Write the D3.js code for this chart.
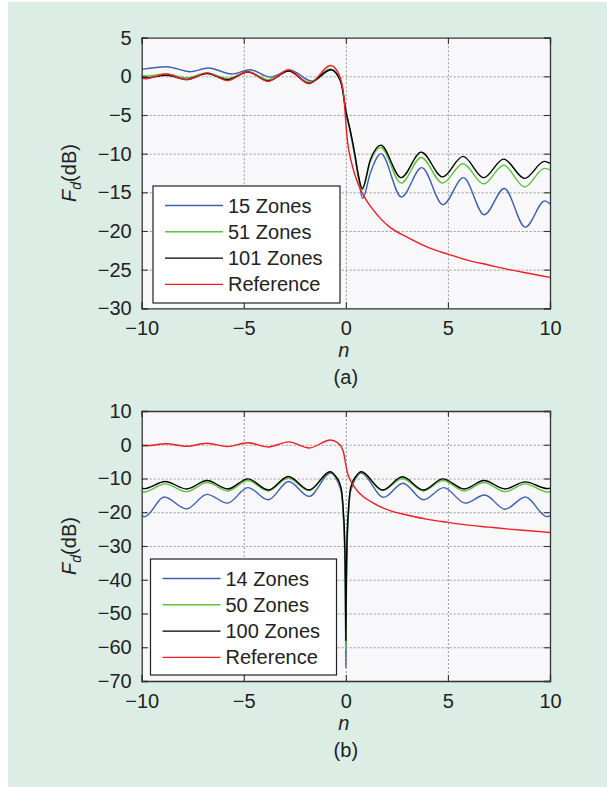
<!DOCTYPE html>
<html>
<head>
<meta charset="utf-8">
<script src="https://cdn.jsdelivr.net/npm/d3@7"></script>
<style>
  body { margin: 0; background: #fff; }
  svg { display: block; font-family: "Liberation Sans", Arial, sans-serif; }
</style>
</head>
<body>
<div id="chart"></div>
<script>
// Reference curve (knife edge), same in both panels
const refN = [-10, -9.8, -8.8, -7.8, -6.8, -5.8, -4.8, -3.8, -2.8, -1.8, -0.75, -0.4, -0.2, -0.1, 0, 0.05, 0.1, 0.2, 0.3, 0.45, 0.6, 0.8, 1, 1.35, 1.7, 2.2, 3, 4, 5, 6, 7, 8, 9, 10];
const refDb = [-0.25, -0.3, 0.3, -0.45, 0.45, -0.55, 0.6, -0.65, 0.85, -0.95, 1.4, 0.6, -0.9, -2.6, -6.0, -7.6, -8.8, -10.3, -11.4, -12.8, -13.9, -15.1, -16.0, -17.3, -18.4, -19.6, -20.8, -22.1, -23.0, -23.8, -24.4, -25.0, -25.5, -26.0];

// Panel (a)
const nA = [-10, -9.8, -8.8, -7.8, -6.8, -5.8, -4.8, -3.8, -2.8, -1.8, -0.75, -0.4, -0.2, 0, 0.2, 0.45, 0.6, 0.8, 1.2, 1.71, 2.71, 3.69, 4.74, 5.74, 6.75, 7.73, 8.76, 9.73, 10];
const zones101A = [-0.15, -0.2, 0.13, -0.39, 0.35, -0.43, 0.56, -0.6, 0.69, -0.9, 0.85, 0.1, -1.2, -4.5, -6.8, -10.2, -12.6, -14.5, -10.8, -8.9, -13.1, -9.8, -13.0, -10.35, -13.1, -10.7, -13.2, -11.0, -11.25];
const zones51A = [0.09, 0.05, 0.3, -0.17, 0.43, -0.26, 0.6, -0.43, 0.73, -0.78, 0.95, 0.15, -1.1, -4.4, -6.8, -10.3, -12.7, -14.7, -11.0, -9.2, -13.8, -10.5, -13.8, -11.3, -13.9, -11.5, -14.3, -11.9, -12.1];
const nA15 = [-10, -8.78, -7.63, -6.73, -5.59, -4.69, -3.71, -2.73, -1.67, -0.69, -0.4, -0.2, 0, 0.2, 0.45, 0.6, 0.82, 1.2, 1.72, 2.72, 3.72, 4.76, 5.76, 6.78, 7.76, 8.79, 9.75, 10];
const zones15A = [0.9, 1.25, 0.6, 1.08, 0.3, 0.86, -0.1, 0.8, -0.6, 0.86, 0.2, -1.0, -4.4, -7.0, -10.5, -12.8, -15.8, -12.5, -10.0, -15.6, -11.8, -16.6, -13.1, -17.9, -14.5, -19.5, -16.1, -16.5];

// Panel (b)
const nB = [-10, -9.88, -8.85, -7.8, -6.8, -5.78, -4.8, -3.8, -2.82, -1.8, -0.77, -0.5, -0.3, -0.2, -0.12, -0.06, -0.02, 0, 0.02, 0.06, 0.12, 0.2, 0.3, 0.5, 0.75, 1.8, 2.77, 3.8, 4.75, 5.8, 6.77, 7.8, 8.78, 9.88, 10];
const zones100B = [-12.9, -13.0, -10.9, -13.1, -10.6, -13.1, -10.1, -13.4, -9.4, -13.4, -8.0, -9.3, -11.5, -14.0, -20.0, -28.0, -42.0, -58.0, -42.0, -28.0, -20.0, -14.0, -11.5, -9.3, -8.0, -13.4, -9.5, -13.4, -10.1, -13.1, -10.6, -13.1, -11.0, -13.0, -12.9];
const zones50B = [-13.9, -14.0, -11.6, -13.9, -11.2, -13.7, -10.6, -13.7, -9.9, -13.6, -8.2, -9.5, -11.8, -14.4, -20.5, -29.0, -44.0, -61.0, -44.0, -29.0, -20.5, -14.4, -11.8, -9.5, -8.2, -13.6, -10.0, -13.7, -10.6, -13.7, -11.2, -13.9, -11.6, -14.0, -13.9];
const nB14 = [-10, -9.85, -8.9, -7.8, -6.8, -5.8, -4.8, -3.8, -2.8, -1.8, -0.75, -0.5, -0.3, -0.2, -0.12, -0.06, -0.02, 0, 0.02, 0.06, 0.12, 0.2, 0.3, 0.5, 0.75, 1.85, 2.8, 3.8, 4.8, 5.85, 6.8, 7.8, 8.8, 9.85, 10];
const zones14B = [-21.1, -21.3, -15.5, -19.0, -14.7, -17.3, -12.7, -16.3, -10.9, -15.3, -8.4, -9.8, -12.5, -15.0, -21.5, -31.0, -48.0, -66.0, -48.0, -31.0, -21.5, -15.0, -12.5, -9.8, -8.4, -15.6, -11.4, -16.3, -12.7, -17.3, -14.9, -19.1, -15.5, -21.3, -21.0];

const xTicks = [-10, -5, 0, 5, 10];
const yTicksA = [5, 0, -5, -10, -15, -20, -25, -30];
const yTicksB = [10, 0, -10, -20, -30, -40, -50, -60, -70];
const labelsA = ['15 Zones', '51 Zones', '101 Zones', 'Reference'];
const labelsB = ['14 Zones', '50 Zones', '100 Zones', 'Reference'];

const colours = { blue: '#3c5fb4', green: '#5fc23c', black: '#000', red: '#ee1d25' };

const w = 607;
const h = 787;

const svg = d3.select('#chart')
  .append('svg')
  .attr('width', w)
  .attr('height', h);

// mint page background
svg.append('rect')
  .attr('x', 8).attr('y', 2)
  .attr('width', w - 8).attr('height', h - 2)
  .attr('fill', '#dcede6');

function panel(opts) {
  const { top, bottom, yDomain, yTicks, series, labels, legend, caption, id } = opts;
  const left = 141.7, right = 550;

  const x = d3.scaleLinear().domain([-10, 10]).range([left, right]);
  const y = d3.scaleLinear().domain(yDomain).range([bottom, top]);

  const g = svg.append('g');

  g.append('rect')
    .attr('x', left).attr('y', top)
    .attr('width', right - left).attr('height', bottom - top)
    .attr('fill', '#f8f8fa');

  // dotted grid
  const inner = v => v !== yDomain[0] && v !== yDomain[1];
  g.append('g')
    .attr('class', 'grid')
    .attr('transform', `translate(${left},0)`)
    .call(d3.axisLeft(y).tickValues(yTicks.filter(inner)).tickSize(-(right - left)).tickFormat(''));
  g.append('g')
    .attr('class', 'grid')
    .attr('transform', `translate(0,${bottom})`)
    .call(d3.axisBottom(x).tickValues([-5, 0, 5]).tickSize(-(bottom - top)).tickFormat(''));
  g.selectAll('.grid .domain').remove();
  g.selectAll('.grid line')
    .attr('stroke', '#999')
    .attr('stroke-width', 1)
    .attr('stroke-dasharray', '2,2');

  // curves
  g.append('clipPath')
    .attr('id', id)
    .append('rect')
    .attr('x', left).attr('y', top)
    .attr('width', right - left).attr('height', bottom - top);

  const line = d3.line()
    .x(d => x(d[0]))
    .y(d => y(d[1]))
    .curve(d3.curveMonotoneX);

  g.append('g')
    .attr('clip-path', `url(#${id})`)
    .selectAll('path')
    .data(series)
    .enter()
    .append('path')
    .attr('d', s => line(d3.zip(s.n, s.v)))
    .attr('fill', 'none')
    .attr('stroke', s => s.colour)
    .attr('stroke-width', 1.4)
    .attr('stroke-linejoin', 'round');

  // frame + inward ticks
  const tickLen = 6;
  const axes = [
    [d3.axisLeft(y).tickValues(yTicks).tickSize(-tickLen).tickPadding(10), `translate(${left},0)`],
    [d3.axisBottom(x).tickValues(xTicks).tickSize(-tickLen).tickPadding(12.5), `translate(0,${bottom})`],
    [d3.axisRight(y).tickValues(yTicks).tickSize(-tickLen).tickFormat(''), `translate(${right},0)`],
    [d3.axisTop(x).tickValues(xTicks).tickSize(-tickLen).tickFormat(''), `translate(0,${top})`]
  ];
  axes.forEach(([ax, tr]) => {
    const a = g.append('g').attr('transform', tr).call(ax);
    a.select('.domain').attr('stroke', '#333').attr('stroke-width', 1.3);
    a.selectAll('.tick line').attr('stroke', '#333').attr('stroke-width', 1.1);
    a.selectAll('.tick text')
      .attr('fill', '#222')
      .style('font-size', '20px')
      .style('font-family', '"Liberation Sans", Arial, sans-serif');
  });

  // axis titles
  const yt = g.append('text')
    .attr('transform', `translate(76,${(top + bottom) / 2}) rotate(-90)`)
    .attr('text-anchor', 'middle')
    .attr('fill', '#222')
    .style('font-size', '20px');
  yt.append('tspan').attr('font-style', 'italic').text('F');
  yt.append('tspan').attr('font-style', 'italic').attr('dy', 5).style('font-size', '14px').text('d');
  yt.append('tspan').attr('dy', -5).text('(dB)');

  g.append('text')
    .attr('x', (left + right) / 2 - 2)
    .attr('y', bottom + 49)
    .attr('text-anchor', 'middle')
    .attr('font-style', 'italic')
    .attr('fill', '#222')
    .style('font-size', '20px')
    .text('n');

  g.append('text')
    .attr('x', (left + right) / 2)
    .attr('y', bottom + 76)
    .attr('text-anchor', 'middle')
    .attr('fill', '#222')
    .style('font-size', '20px')
    .text(caption);

  // legend
  const lg = g.append('g');
  lg.append('rect')
    .attr('x', legend.x).attr('y', legend.y)
    .attr('width', legend.w).attr('height', legend.h)
    .attr('fill', '#fff')
    .attr('stroke', '#222')
    .attr('stroke-width', 1.2);

  const rows = lg.selectAll('.row')
    .data(series.map((s, i) => ({ colour: s.colour, label: labels[i] })))
    .enter()
    .append('g')
    .attr('class', 'row')
    .attr('transform', (d, i) => `translate(${legend.x},${legend.y + 19.5 + i * 26.3})`);

  rows.append('line')
    .attr('x1', 12).attr('x2', 70)
    .attr('stroke', d => d.colour)
    .attr('stroke-width', 1.4);

  rows.append('text')
    .attr('x', 75)
    .attr('y', 7)
    .attr('fill', '#222')
    .style('font-size', '20px')
    .text(d => d.label);
}

panel({
  id: 'clip-a',
  top: 37.7,
  bottom: 308.3,
  yDomain: [-30, 5],
  yTicks: yTicksA,
  labels: labelsA,
  caption: '(a)',
  legend: { x: 153, y: 186, w: 187, h: 117 },
  series: [
    { n: nA15, v: zones15A, colour: colours.blue },
    { n: nA, v: zones51A, colour: colours.green },
    { n: nA, v: zones101A, colour: colours.black },
    { n: refN, v: refDb, colour: colours.red }
  ]
});

panel({
  id: 'clip-b',
  top: 411,
  bottom: 681,
  yDomain: [-70, 10],
  yTicks: yTicksB,
  labels: labelsB,
  caption: '(b)',
  legend: { x: 150.5, y: 559, w: 186, h: 116 },
  series: [
    { n: nB14, v: zones14B, colour: colours.blue },
    { n: nB, v: zones50B, colour: colours.green },
    { n: nB, v: zones100B, colour: colours.black },
    { n: refN, v: refDb, colour: colours.red }
  ]
});
</script>
</body>
</html>
